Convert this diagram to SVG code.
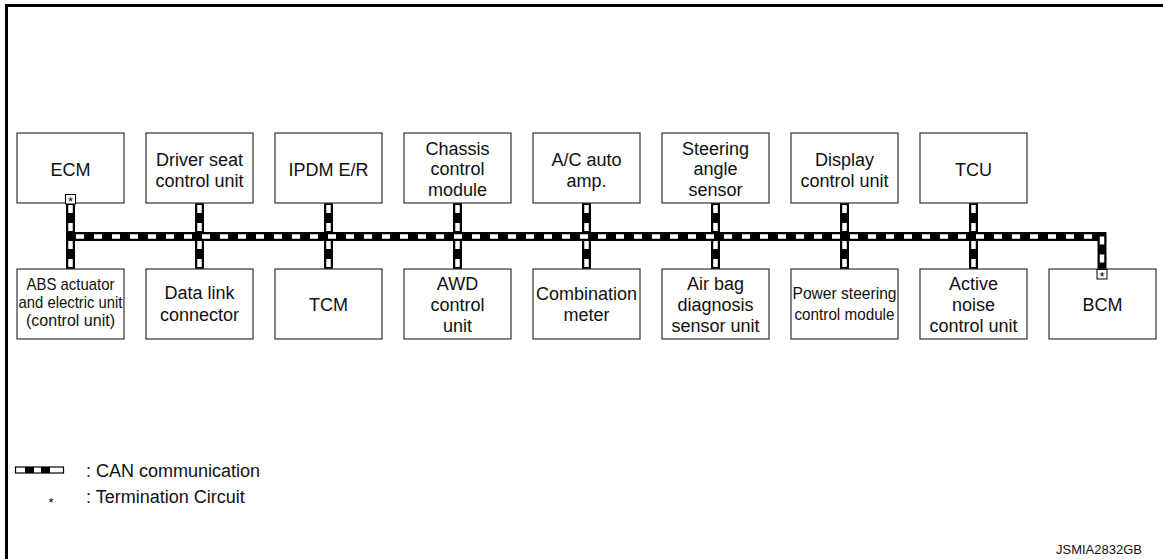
<svg xmlns="http://www.w3.org/2000/svg" width="1163" height="559" viewBox="0 0 1163 559">
<style>
  .box { fill: #fff; stroke: #333; stroke-width: 1.2; }
  .t { font-family: "Liberation Sans", Arial, sans-serif; font-size: 18px; fill: #111; text-anchor: middle; }
  .ts { font-family: "Liberation Sans", Arial, sans-serif; font-size: 17px; fill: #111; text-anchor: middle; }
  .can-o { fill: none; stroke: #000; stroke-width: 9; }
  .can-i { fill: none; stroke: #fff; stroke-width: 4.5; stroke-dasharray: 8 10; }
  .term { fill: #fff; stroke: #000; stroke-width: 1; }
  .star { font-family: "Liberation Sans", Arial, sans-serif; font-size: 13px; fill: #000; text-anchor: middle; }
  .leg { font-family: "Liberation Sans", Arial, sans-serif; font-size: 18px; fill: #111; }
</style>
<rect x="0" y="0" width="1163" height="559" fill="#fff"/>
<path d="M6.5,559 V5.5 H1163" fill="none" stroke="#000" stroke-width="3"/>

<g id="connectors">
  <path class="can-o" d="M70.5,236.5 H1102 V269"/>
  <path class="can-o" d="M70.5,203 V269 M199.5,203 V269 M328.5,203 V269 M457.5,203 V269 M586.5,203 V269 M715.5,203 V269 M844.5,203 V269 M973.5,203 V269"/>
  <path class="can-i" d="M76,236.5 H1102 V269"/>
  <path class="can-i" d="M70.5,205 V269"/>
  <path class="can-i" d="M199.5,205 V269"/>
  <path class="can-i" d="M328.5,205 V269"/>
  <path class="can-i" d="M457.5,205 V269"/>
  <path class="can-i" d="M586.5,205 V269"/>
  <path class="can-i" d="M715.5,205 V269"/>
  <path class="can-i" d="M844.5,205 V269"/>
  <path class="can-i" d="M973.5,205 V269"/>
</g>

<g id="ecm"><rect class="box" x="17" y="133" width="107" height="70"/><text class="t" x="70.5" y="175.5">ECM</text>
  <rect class="term" x="65.5" y="194.5" width="10" height="9.5"/><text class="star" x="70.5" y="206">*</text></g>
<g id="driver-seat"><rect class="box" x="146" y="133" width="107" height="70"/><text class="t" x="199.5" y="165.5">Driver seat</text><text class="t" x="199.5" y="187">control unit</text></g>
<g id="ipdm"><rect class="box" x="275" y="133" width="107" height="70"/><text class="t" x="328.5" y="175.5">IPDM E/R</text></g>
<g id="chassis"><rect class="box" x="404" y="133" width="107" height="70"/><text class="t" x="457.5" y="154.5">Chassis</text><text class="t" x="457.5" y="175">control</text><text class="t" x="457.5" y="195.5">module</text></g>
<g id="ac-auto-amp"><rect class="box" x="533" y="133" width="107" height="70"/><text class="t" x="586.5" y="165.5">A/C auto</text><text class="t" x="586.5" y="187">amp.</text></g>
<g id="steering-angle"><rect class="box" x="662" y="133" width="107" height="70"/><text class="t" x="715.5" y="154.5">Steering</text><text class="t" x="715.5" y="175">angle</text><text class="t" x="715.5" y="195.5">sensor</text></g>
<g id="display"><rect class="box" x="791" y="133" width="107" height="70"/><text class="t" x="844.5" y="165.5">Display</text><text class="t" x="844.5" y="187">control unit</text></g>
<g id="tcu"><rect class="box" x="920" y="133" width="107" height="70"/><text class="t" x="973.5" y="175.5">TCU</text></g>

<g id="abs"><rect class="box" x="17" y="269" width="107" height="70"/>
  <text class="ts" x="70.5" y="290" textLength="88" lengthAdjust="spacingAndGlyphs">ABS actuator</text>
  <text class="ts" x="70.5" y="308" textLength="104" lengthAdjust="spacingAndGlyphs">and electric unit</text>
  <text class="ts" x="70.5" y="326" textLength="89" lengthAdjust="spacingAndGlyphs">(control unit)</text></g>
<g id="data-link"><rect class="box" x="146" y="269" width="107" height="70"/><text class="t" x="199.5" y="298.5">Data link</text><text class="t" x="199.5" y="320.5">connector</text></g>
<g id="tcm"><rect class="box" x="275" y="269" width="107" height="70"/><text class="t" x="328.5" y="311">TCM</text></g>
<g id="awd"><rect class="box" x="404" y="269" width="107" height="70"/><text class="t" x="457.5" y="290">AWD</text><text class="t" x="457.5" y="311">control</text><text class="t" x="457.5" y="332">unit</text></g>
<g id="combination-meter"><rect class="box" x="533" y="269" width="107" height="70"/><text class="t" x="586.5" y="299.5">Combination</text><text class="t" x="586.5" y="321">meter</text></g>
<g id="air-bag"><rect class="box" x="662" y="269" width="107" height="70"/><text class="t" x="715.5" y="290">Air bag</text><text class="t" x="715.5" y="311">diagnosis</text><text class="t" x="715.5" y="332">sensor unit</text></g>
<g id="power-steering"><rect class="box" x="791" y="269" width="107" height="70"/>
  <text class="ts" x="844.5" y="299" textLength="104" lengthAdjust="spacingAndGlyphs">Power steering</text>
  <text class="ts" x="844.5" y="320" textLength="100" lengthAdjust="spacingAndGlyphs">control module</text></g>
<g id="active-noise"><rect class="box" x="920" y="269" width="107" height="70"/><text class="t" x="973.5" y="290">Active</text><text class="t" x="973.5" y="311">noise</text><text class="t" x="973.5" y="332">control unit</text></g>
<g id="bcm"><rect class="box" x="1049" y="269" width="107" height="70"/><text class="t" x="1102.5" y="311">BCM</text>
  <rect class="term" x="1097" y="269.5" width="10" height="9.5"/><text class="star" x="1102" y="281">*</text></g>

<g id="legend">
  <rect x="15.5" y="467" width="48" height="6" fill="#fff" stroke="#000" stroke-width="1.2"/>
  <path d="M25,470 H34 M41,470 H50" stroke="#000" stroke-width="6"/>
  <text class="leg" x="86" y="477">: CAN communication</text>
  <text class="star" x="51" y="507" font-size="15">*</text>
  <text class="leg" x="86" y="503">: Termination Circuit</text>
</g>
<text x="1142" y="554" font-family="Liberation Sans, Arial, sans-serif" font-size="13" fill="#111" text-anchor="end">JSMIA2832GB</text>
</svg>
